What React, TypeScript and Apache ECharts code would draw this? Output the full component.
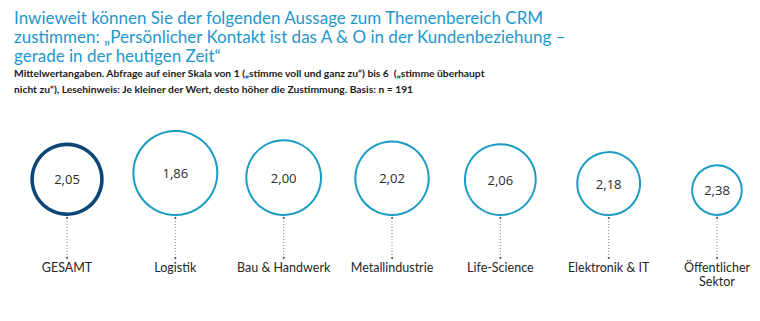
import React, { useEffect, useRef } from "react";
import * as echarts from "echarts";

const titleLines = [
  "Inwieweit können Sie der folgenden Aussage zum Themenbereich CRM",
  "zustimmen: „Persönlicher Kontakt ist das A & O in der Kundenbeziehung –",
  "gerade in der heutigen Zeit“",
];
const subtitleLines = [
  "Mittelwertangaben. Abfrage auf einer Skala von 1 („stimme voll und ganz zu“) bis 6  („stimme überhaupt",
  "nicht zu“), Lesehinweis: Je kleiner der Wert, desto höher die Zustimmung. Basis: n = 191",
];
const categories = [
  "GESAMT",
  "Logistik",
  "Bau & Handwerk",
  "Metallindustrie",
  "Life-Science",
  "Elektronik & IT",
  "Öffentlicher\nSektor",
];
const values = [2.05, 1.86, 2.0, 2.02, 2.06, 2.18, 2.38];

const TEAL = "#1c9cc4";
const NAVY = "#0c4677";
const TITLE = "#1f97cc";

// circle radius scale derived from value (smaller value = larger circle)
const radiusOf = (v: number) => 43 - (v - 1.86) * 33;
const fmt = (v: number) => v.toFixed(2).replace(".", ",");

export default function App() {
  const ref = useRef<HTMLDivElement>(null);
  useEffect(() => {
    if (!ref.current) return;
    const chart = echarts.init(ref.current, undefined, { renderer: "svg" });
    chart.setOption({
      animation: false,
      backgroundColor: "#ffffff",
      title: [
        {
          text: titleLines.join("\n"),
          left: 14,
          top: 8,
          padding: 0,
          textStyle: {
            fontFamily: "Lato",
            fontWeight: "normal",
            fontSize: 17,
            lineHeight: 19,
            color: TITLE,
          },
        },
        {
          text: subtitleLines.join("\n"),
          left: 14,
          top: 65.5,
          padding: 0,
          textStyle: {
            fontFamily: "Lato",
            fontWeight: "bold",
            fontSize: 10.3,
            lineHeight: 15.5,
            color: "#1a1a1a",
          },
        },
      ],
      grid: { left: 67, right: 43, top: 110, bottom: 105 },
      xAxis: {
        type: "category",
        data: categories,
        boundaryGap: false,
        axisLine: { show: false },
        axisTick: { show: false },
        splitLine: { show: false },
        axisLabel: {
          margin: 44,
          fontFamily: "Lato",
          fontSize: 12.5,
          lineHeight: 14.5,
          color: "#262626",
          interval: 0,
        },
      },
      yAxis: { type: "value", min: 0, max: 3, show: false },
      series: [
        {
          type: "custom",
          data: values.map((v, i) => [i, v]),
          encode: { x: 0, y: 1 },
          renderItem: (params: any, api: any) => {
            const i = api.value(0);
            const v = api.value(1);
            const base = api.coord([i, 0]);
            const r = radiusOf(v);
            const isTotal = i === 0;
            const lw = isTotal ? 3.6 : 2;
            const cx = base[0];
            const cy = base[1] - r;
            const lineTop = base[1] + 2;
            const lineBottom = base[1] + 42;
            return {
              type: "group",
              children: [
                {
                  type: "circle",
                  shape: { cx, cy, r: r - lw / 2 },
                  style: { fill: "#ffffff", stroke: isTotal ? NAVY : TEAL, lineWidth: lw },
                },
                {
                  type: "text",
                  style: {
                    x: cx,
                    y: cy,
                    text: fmt(v),
                    align: "center",
                    verticalAlign: "middle",
                    fontFamily: "Open Sans",
                    fontSize: 13,
                    fill: "#2b2b2b",
                  },
                },
                {
                  type: "line",
                  shape: { x1: cx, y1: lineTop, x2: cx, y2: lineBottom },
                  style: { stroke: "#888888", lineWidth: 1, lineDash: [1, 2] },
                },
                { type: "circle", shape: { cx, cy: lineTop, r: 1 }, style: { fill: "#555" } },
                { type: "circle", shape: { cx, cy: lineBottom, r: 1 }, style: { fill: "#555" } },
              ],
            };
          },
        },
      ],
    });
    return () => chart.dispose();
  }, []);
  return (
    <div
      ref={ref}
      style={{ position: "fixed", left: 0, top: 0, width: 760, height: 321 }}
    />
  );
}
